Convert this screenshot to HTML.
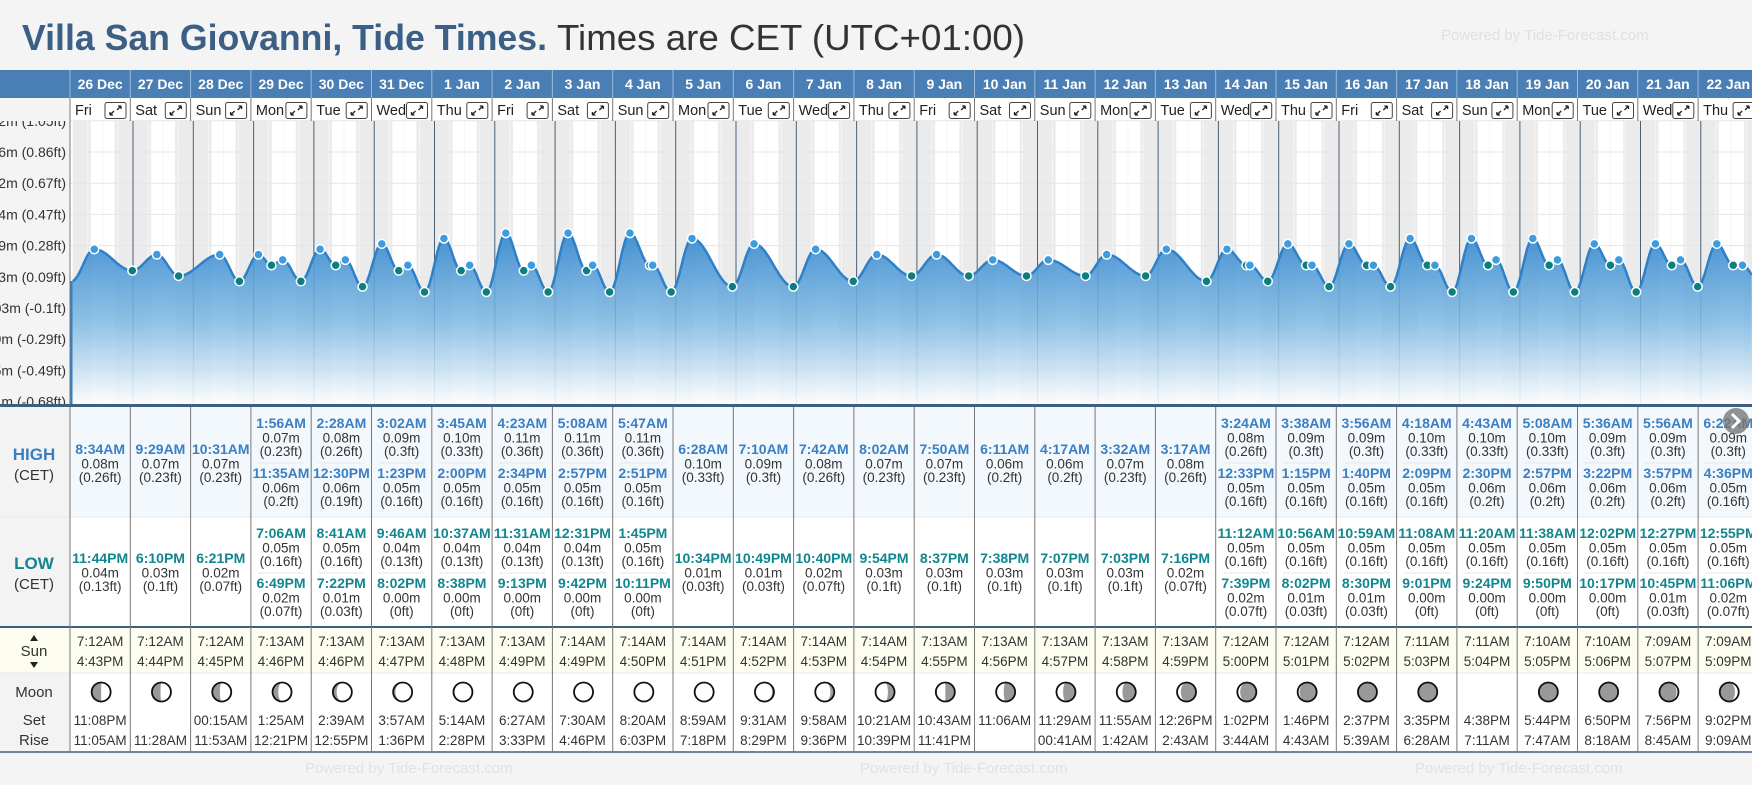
<!DOCTYPE html>
<html><head><meta charset="utf-8">
<style>
html,body{margin:0;padding:0;background:#f4f4f4;}
body{width:1752px;height:780px;overflow:hidden;font-family:"Liberation Sans",sans-serif;}
svg text{font-family:"Liberation Sans",sans-serif;}
</style></head>
<body>
<svg id="root" width="1752" height="780" viewBox="0 0 1752 780" xmlns="http://www.w3.org/2000/svg">
  <rect x="0" y="0" width="1752" height="780" fill="#f4f4f4"/>
  <text x="22" y="50" font-size="36" font-weight="bold" fill="#3b5f85" textLength="525" lengthAdjust="spacingAndGlyphs">Villa San Giovanni, Tide Times.</text>
  <text x="557" y="50" font-size="36" fill="#333" textLength="468" lengthAdjust="spacingAndGlyphs">Times are CET (UTC+01:00)</text>
  <text x="1441" y="40" font-size="15" fill="#e0e0e0">Powered by Tide-Forecast.com</text>
  <g id="layer"></g>
</svg>
<script>
const dates=["26 Dec","27 Dec","28 Dec","29 Dec","30 Dec","31 Dec","1 Jan","2 Jan","3 Jan","4 Jan","5 Jan","6 Jan","7 Jan","8 Jan","9 Jan","10 Jan","11 Jan","12 Jan","13 Jan","14 Jan","15 Jan","16 Jan","17 Jan","18 Jan","19 Jan","20 Jan","21 Jan","22 Jan"];
const dayNames=["Fri","Sat","Sun","Mon","Tue","Wed","Thu"];
const highTimes=[["8:34AM"],["9:29AM"],["10:31AM"],["1:56AM","11:35AM"],["2:28AM","12:30PM"],["3:02AM","1:23PM"],["3:45AM","2:00PM"],["4:23AM","2:34PM"],["5:08AM","2:57PM"],["5:47AM","2:51PM"],["6:28AM"],["7:10AM"],["7:42AM"],["8:02AM"],["7:50AM"],["6:11AM"],["4:17AM"],["3:32AM"],["3:17AM"],["3:24AM","12:33PM"],["3:38AM","1:15PM"],["3:56AM","1:40PM"],["4:18AM","2:09PM"],["4:43AM","2:30PM"],["5:08AM","2:57PM"],["5:36AM","3:22PM"],["5:56AM","3:57PM"],["6:22AM","4:36PM"]];
const highVals=[[0.08],[0.07],[0.07],[0.07,0.06],[0.08,0.06],[0.09,0.05],[0.10,0.05],[0.11,0.05],[0.11,0.05],[0.11,0.05],[0.10],[0.09],[0.08],[0.07],[0.07],[0.06],[0.06],[0.07],[0.08],[0.08,0.05],[0.09,0.05],[0.09,0.05],[0.10,0.05],[0.10,0.06],[0.10,0.06],[0.09,0.06],[0.09,0.06],[0.09,0.05]];
const highFt=[["0.26"],["0.23"],["0.23"],["0.23","0.2"],["0.26","0.19"],["0.3","0.16"],["0.33","0.16"],["0.36","0.16"],["0.36","0.16"],["0.36","0.16"],["0.33"],["0.3"],["0.26"],["0.23"],["0.23"],["0.2"],["0.2"],["0.23"],["0.26"],["0.26","0.16"],["0.3","0.16"],["0.3","0.16"],["0.33","0.16"],["0.33","0.2"],["0.33","0.2"],["0.3","0.2"],["0.3","0.2"],["0.3","0.16"]];
const lowTimes=[["11:44PM"],["6:10PM"],["6:21PM"],["7:06AM","6:49PM"],["8:41AM","7:22PM"],["9:46AM","8:02PM"],["10:37AM","8:38PM"],["11:31AM","9:13PM"],["12:31PM","9:42PM"],["1:45PM","10:11PM"],["10:34PM"],["10:49PM"],["10:40PM"],["9:54PM"],["8:37PM"],["7:38PM"],["7:07PM"],["7:03PM"],["7:16PM"],["11:12AM","7:39PM"],["10:56AM","8:02PM"],["10:59AM","8:30PM"],["11:08AM","9:01PM"],["11:20AM","9:24PM"],["11:38AM","9:50PM"],["12:02PM","10:17PM"],["12:27PM","10:45PM"],["12:55PM","11:06PM"]];
const lowVals=[[0.04],[0.03],[0.02],[0.05,0.02],[0.05,0.01],[0.04,0.00],[0.04,0.00],[0.04,0.00],[0.04,0.00],[0.05,0.00],[0.01],[0.01],[0.02],[0.03],[0.03],[0.03],[0.03],[0.03],[0.02],[0.05,0.02],[0.05,0.01],[0.05,0.01],[0.05,0.00],[0.05,0.00],[0.05,0.00],[0.05,0.00],[0.05,0.01],[0.05,0.02]];
const lowFt=[["0.13"],["0.1"],["0.07"],["0.16","0.07"],["0.16","0.03"],["0.13","0"],["0.13","0"],["0.13","0"],["0.13","0"],["0.16","0"],["0.03"],["0.03"],["0.07"],["0.1"],["0.1"],["0.1"],["0.1"],["0.1"],["0.07"],["0.16","0.07"],["0.16","0.03"],["0.16","0.03"],["0.16","0"],["0.16","0"],["0.16","0"],["0.16","0"],["0.16","0.03"],["0.16","0.07"]];
const sunrise=["7:12AM","7:12AM","7:12AM","7:13AM","7:13AM","7:13AM","7:13AM","7:13AM","7:14AM","7:14AM","7:14AM","7:14AM","7:14AM","7:14AM","7:13AM","7:13AM","7:13AM","7:13AM","7:13AM","7:12AM","7:12AM","7:12AM","7:11AM","7:11AM","7:10AM","7:10AM","7:09AM","7:09AM"];
const sunset=["4:43PM","4:44PM","4:45PM","4:46PM","4:46PM","4:47PM","4:48PM","4:49PM","4:49PM","4:50PM","4:51PM","4:52PM","4:53PM","4:54PM","4:55PM","4:56PM","4:57PM","4:58PM","4:59PM","5:00PM","5:01PM","5:02PM","5:03PM","5:04PM","5:05PM","5:06PM","5:07PM","5:09PM"];
const moonSet=["11:08PM","","00:15AM","1:25AM","2:39AM","3:57AM","5:14AM","6:27AM","7:30AM","8:20AM","8:59AM","9:31AM","9:58AM","10:21AM","10:43AM","11:06AM","11:29AM","11:55AM","12:26PM","1:02PM","1:46PM","2:37PM","3:35PM","4:38PM","5:44PM","6:50PM","7:56PM","9:02PM"];
const moonRise=["11:05AM","11:28AM","11:53AM","12:21PM","12:55PM","1:36PM","2:28PM","3:33PM","4:46PM","6:03PM","7:18PM","8:29PM","9:36PM","10:39PM","11:41PM","","00:41AM","1:42AM","2:43AM","3:44AM","4:43AM","5:39AM","6:28AM","7:11AM","7:47AM","8:18AM","8:45AM","9:09AM"];
const moonGrey=[0.5,0.45,0.4,0.3,0.2,0.12,0.06,0.02,0,0,0.03,0.1,0.2,0.35,0.5,0.6,0.65,0.7,0.8,0.85,0.9,0.95,1,-1,1,0.95,0.9,0.8];
const moonSide=["L","L","L","L","L","L","L","L","L","L","R","R","R","R","R","R","R","R","R","R","R","R","R","R","L","L","L","L"];
const tickVals=[0.32,0.2617,0.2033,0.145,0.0867,0.0283,-0.03,-0.0883,-0.1467,-0.205];
const tickLabels=["0.32m (1.05ft)","0.26m (0.86ft)","0.2m (0.67ft)","0.14m (0.47ft)","0.09m (0.28ft)","0.03m (0.09ft)","-0.03m (-0.1ft)","-0.09m (-0.29ft)","-0.15m (-0.49ft)","-0.21m (-0.68ft)"];

const NS="http://www.w3.org/2000/svg";
const L=document.getElementById('layer');
function el(tag,attrs,parent,txt){const e=document.createElementNS(NS,tag);for(const k in attrs)e.setAttribute(k,attrs[k]);if(txt!==undefined)e.textContent=txt;(parent||L).appendChild(e);return e;}
const CW=60.3, X0=70, CX0=72.7, CT=121, CB=405;
const colX=d=>X0+d*CW;
const tX=t=>CX0+t/24*CW;
const yS=v=>292-v*535;
function hrs(s){const m=s.match(/(\d+):(\d+)(AM|PM)/);let h=+m[1]%12;if(m[3]==="PM")h+=12;return h+ +m[2]/60;}
const N=dates.length;

let g=el('rect',{x:0,y:70,width:1752,height:28,fill:'#4a7fb5'});

el('rect',{x:0,y:98,width:70,height:23,fill:'#f4f4f4'});
el('rect',{x:70,y:98,width:1682,height:23,fill:'#ffffff'});
el('rect',{x:0,y:121,width:70,height:286,fill:'#f4f4f4'});
el('rect',{x:70,y:CT,width:1682,height:CB-CT,fill:'#ffffff'});
for(let d=0;d<N;d++){
  const sr=hrs(sunrise[d]),ss=hrs(sunset[d]);
  const n1=el('rect',{x:tX(d*24),y:CT,width:tX(d*24+sr)-tX(d*24),height:CB-CT,fill:'#ebebeb'});
  
  const n2=el('rect',{x:tX(d*24+ss),y:CT,width:tX(d*24+24)-tX(d*24+ss),height:CB-CT,fill:'#ebebeb'});
  
  [6,12,18].forEach(h=>el('line',{x1:tX(d*24+h),x2:tX(d*24+h),y1:CT,y2:CB,stroke:'#f6f6f6','stroke-width':1}));
}
tickVals.forEach((v,i)=>{
  el('line',{x1:70,x2:1752,y1:yS(v),y2:yS(v),stroke:'#e6e6e6','stroke-width':1});
  const t=el('text',{x:66,y:yS(v)+5,'font-size':14,fill:'#333','text-anchor':'end'},L,tickLabels[i]);
  
});
el('rect',{x:0,y:98,width:70,height:23,fill:'#f4f4f4'});
for(let d=1;d<N;d++){el('line',{x1:tX(d*24),x2:tX(d*24),y1:CT,y2:CB,stroke:'#4a6078','stroke-width':1});}

const ext=[{t:-0.5,v:0.02,k:'x'}];
for(let d=0;d<N;d++){
  highTimes[d].forEach((s,i)=>ext.push({t:d*24+hrs(s),v:highVals[d][i],k:'h'}));
  lowTimes[d].forEach((s,i)=>ext.push({t:d*24+hrs(s),v:lowVals[d][i],k:'l'}));
}
ext.sort((a,b)=>a.t-b.t);
function val(t){
  for(let i=0;i<ext.length-1;i++){const a=ext[i],b=ext[i+1];
    if(t>=a.t&&t<=b.t){const f=(t-a.t)/(b.t-a.t);return a.v+(b.v-a.v)*(1-Math.cos(Math.PI*f))/2;}}
  return ext[ext.length-1].v;
}
const defs=el('defs',{});
const lg=el('linearGradient',{id:'fillg',x1:0,y1:0,x2:0,y2:1},defs);
el('stop',{offset:'0','stop-color':'#3b8bcf','stop-opacity':'0.95'},lg);
el('stop',{offset:'0.5','stop-color':'#7ab6e2','stop-opacity':'0.85'},lg);
el('stop',{offset:'1','stop-color':'#ffffff','stop-opacity':'0.9'},lg);
let pts=[];const tEnd=(1752-CX0)/CW*24;
for(let t=0;t<=tEnd;t+=0.25)pts.push([tX(t),yS(val(t))]);
let line='M'+pts.map(p=>p[0].toFixed(1)+','+p[1].toFixed(1)).join(' L');
const area=el('path',{d:'M70,'+CB+' L70,'+pts[0][1].toFixed(1)+' L'+pts.map(p=>p[0].toFixed(1)+','+p[1].toFixed(1)).join(' L')+' L1752,'+CB+' Z',fill:'url(#fillg)'});

el('line',{x1:71,x2:71,y1:pts[0][1],y2:CB,stroke:'#2e80c8','stroke-width':3});
const ln=el('path',{d:line,fill:'none',stroke:'#2e80c8','stroke-width':2.5});

ext.forEach(e=>{if(e.k==='x')return;
  const c=el('circle',{cx:tX(e.t),cy:yS(e.v),r:4.5,fill:e.k==='h'?'#3b9de0':'#0b7f7f',stroke:'#ffffff','stroke-width':1.5});
  
  
});
el('rect',{x:0,y:404,width:1752,height:3,fill:'#3f5f80'});

el('rect',{x:0,y:407,width:70,height:345,fill:'#f3f3f3'});
el('rect',{x:70,y:407,width:1682,height:110,fill:'#f3f8fd'});
el('rect',{x:70,y:517,width:1682,height:110,fill:'#ffffff'});
el('rect',{x:70,y:627,width:1682,height:46,fill:'#fdfdf0'});
el('rect',{x:0,y:627,width:70,height:46,fill:'#fdfdf0'});
el('rect',{x:70,y:673,width:1682,height:79,fill:'#ffffff'});
el('line',{x1:0,x2:1752,y1:517,y2:517,stroke:'#eaeaea'});
el('line',{x1:0,x2:1752,y1:673,y2:673,stroke:'#eaeaea'});
el('rect',{x:0,y:626,width:1752,height:2,fill:'#3f5f80'});
el('line',{x1:0,x2:1752,y1:752,y2:752,stroke:'#3f5f80','stroke-width':1.5});
el('rect',{x:0,y:753,width:1752,height:27,fill:'#f4f4f4'});
[-250,305,860,1415].forEach(x=>{const f=el('text',{x:x,y:773,'font-size':15,fill:'#e2e2e2'},L,'Powered by Tide-Forecast.com');
  });
el('rect',{x:0,y:753,width:70,height:27,fill:'#f4f4f4'});

function lab(x,y,s,size,col,w,name){const t=el('text',{x:x,y:y,'font-size':size,fill:col,'text-anchor':'middle','font-weight':w||'normal'},L,s);return t;}
lab(34,460,'HIGH',17,'#3a7fc4','bold','high-label');lab(34,480,'(CET)',15,'#333','normal','high-tz-label');
lab(34,569,'LOW',17,'#11868e','bold','low-label');lab(34,589,'(CET)',15,'#333','normal','low-tz-label');
lab(34,656,'Sun',15,'#333','normal','sun-label');
el('path',{d:'M30,641 L34,635 L38,641 Z',fill:'#222'});el('path',{d:'M30,662 L34,668 L38,662 Z',fill:'#222'});
lab(34,697,'Moon',15,'#333','normal','moon-label');
lab(34,725,'Set',15,'#333','normal','moon-set-label');lab(34,745,'Rise',15,'#333','normal','moon-rise-label');

function moonIcon(cx,cy,r,gf,side){
  const gr=el('g',{});
  
  el('circle',{cx:cx,cy:cy,r:r,fill:'#fff'},gr);
  if(gf>0){
    const rx=Math.abs(1-2*gf)*r;const s=side==='R'?1:0;
    const sweep2=(gf<0.5)?(1-s):s;
    el('path',{d:`M${cx},${cy-r} A${r},${r} 0 0 ${s} ${cx},${cy+r} A${rx},${r} 0 0 ${sweep2} ${cx},${cy-r} Z`,fill:'#999'},gr);
  }
  el('circle',{cx:cx,cy:cy,r:r,fill:'none',stroke:'#111','stroke-width':1.8},gr);
}

for(let d=0;d<N;d++){
  const x=colX(d),cx=x+CW/2;
  const dl=el('text',{x:cx,y:89,'font-size':14,'font-weight':'bold',fill:'#fff','text-anchor':'middle'},L,dates[d]);
  
  el('line',{x1:x,x2:x,y1:70,y2:98,stroke:'#9dbbdb'});
  el('line',{x1:x,x2:x,y1:98,y2:121,stroke:'#777'});
  el('line',{x1:x,x2:x,y1:407,y2:752,stroke:'#777'});
  const dn=el('text',{x:x+5,y:115,'font-size':14.5,fill:'#222'},L,dayNames[d%7]);
  
  const b=el('rect',{x:x+35,y:102.5,width:21,height:16,rx:2,fill:'#fff',stroke:'#444','stroke-width':1});
  
  el('path',{d:`M${x+40},${115} l4,-4 M${x+40},${115} l0,-3 M${x+40},${115} l3,0 M${x+51},${106} l-4,4 M${x+51},${106} l0,3 M${x+51},${106} l-3,0`,stroke:'#222','stroke-width':1.3,fill:'none'});
  const drawEntries=(times,vals,fts,base2,base1,col,sep,nm)=>{
    const n=times.length;
    times.forEach((s,i)=>{
      const by=n===1?base1:base2[i];
      const t=el('text',{x:cx,y:by,'font-size':14,'font-weight':'bold',fill:col,'text-anchor':'middle'},L,s);
      
      el('text',{x:cx,y:by+14.5,'font-size':13.5,fill:'#333','text-anchor':'middle'},L,vals[i].toFixed(2)+'m');
      el('text',{x:cx,y:by+28,'font-size':13.5,fill:'#333','text-anchor':'middle'},L,'('+fts[i]+'ft)');
    });
    if(n===2)el('line',{x1:x+7,x2:x+CW-7,y1:sep,y2:sep,stroke:'#e3e8ee'});
  };
  drawEntries(highTimes[d],highVals[d],highFt[d],[428,478],454,'#3a7fc4',463,'high-tide');
  drawEntries(lowTimes[d],lowVals[d],lowFt[d],[538,588],563,'#11868e',573,'low-tide');
  el('text',{x:cx,y:646,'font-size':13.5,fill:'#333','text-anchor':'middle'},L,sunrise[d]);
  el('text',{x:cx,y:666,'font-size':13.5,fill:'#333','text-anchor':'middle'},L,sunset[d]);
  if(moonGrey[d]>=0)moonIcon(cx+1,692,9.5,moonGrey[d],moonSide[d]);
  el('text',{x:cx,y:725,'font-size':13.5,fill:'#333','text-anchor':'middle'},L,moonSet[d]);
  el('text',{x:cx,y:745,'font-size':13.5,fill:'#333','text-anchor':'middle'},L,moonRise[d]);
}
el('line',{x1:70,x2:70,y1:98,y2:405,stroke:'#777'});
const nb=el('circle',{cx:1736,cy:421,r:13,fill:'#777','fill-opacity':0.8});

el('path',{d:'M1732,414 L1739,421 L1732,428',stroke:'#fff','stroke-width':3,fill:'none'});
</script>
</body></html>
